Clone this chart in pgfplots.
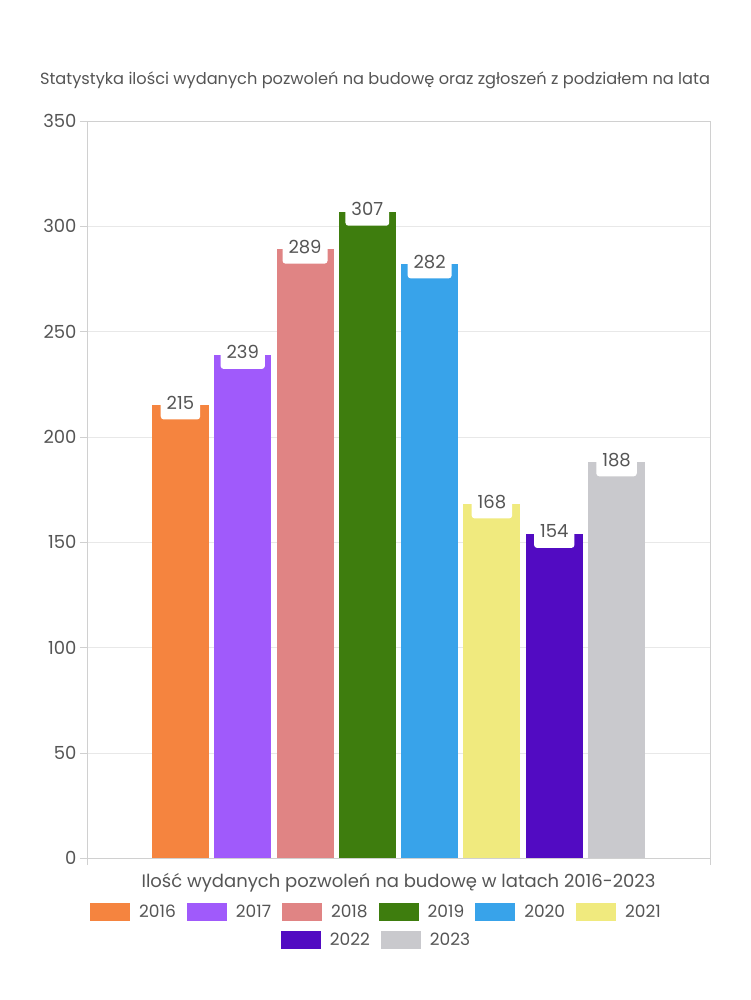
\documentclass[border=0pt]{standalone}
\usepackage{pgfplots}
\pgfplotsset{compat=1.18}
\usepackage{fontspec}
\setmainfont{Poppins}
\definecolor{c16}{HTML}{F5843F}
\definecolor{c17}{HTML}{A05AFB}
\definecolor{c18}{HTML}{E08484}
\definecolor{c19}{HTML}{3E7D0E}
\definecolor{c20}{HTML}{38A3EA}
\definecolor{c21}{HTML}{F0EA7E}
\definecolor{c22}{HTML}{520BC2}
\definecolor{c23}{HTML}{C9C9CD}
\definecolor{txt}{HTML}{555555}
\definecolor{gridc}{HTML}{E8E8E8}
\definecolor{axc}{HTML}{D0D0D0}
\pgfplotsset{
  swatch/.style={legend image code/.code={\fill[##1] (0pt,-9pt) rectangle (40pt,9pt);}},
  lgd/.style={
    legend style={draw=none, fill=none, inner sep=0pt, text=txt,
      font=\fontsize{17}{17}\selectfont, at={(0.5,0)}, anchor=north,
      /tikz/every odd column/.style={column sep=9pt},
      /tikz/every even column/.style={column sep=11pt},
      nodes={inner sep=0pt}},
    legend columns=6, swatch},
}
\begin{document}
\begin{tikzpicture}
\path[use as bounding box, fill=white] (-87pt,-142pt) rectangle (663pt,858pt);
\node[text=txt, font=\fontsize{16.2}{16.2}\selectfont] at (288pt,778pt) {Statystyka ilości wydanych pozwoleń na budowę oraz zgłoszeń z podziałem na lata};
\begin{axis}[
  scale only axis,
  width=623pt, height=737pt,
  xmin=-1.5, xmax=8.5, ymin=0, ymax=350,
  ytick={0,50,...,350},
  xtick={-1.5,8.5}, xticklabels={},
  xtick pos=bottom, ytick pos=left,
  tick align=outside, major tick length=7pt,
  tick style={axc},
  ymajorgrids, grid style={gridc},
  axis line style={axc},
  /pgf/number format/assume math mode=true,
  yticklabel style={text=txt, font=\fontsize{18}{18}\selectfont},
  xlabel={Ilość wydanych pozwoleń na budowę w latach 2016-2023},
  xlabel style={text=txt, font=\fontsize{18}{18}\selectfont, at={(axis description cs:0.5,0)}, anchor=north, yshift=-12pt},
  ybar, bar width=57pt, bar shift=0pt,
  nodes near coords,
  every node near coord/.append style={anchor=north, yshift=10pt, fill=white, rounded corners=3pt,
    text=txt, font=\fontsize{18}{18}\selectfont, inner xsep=6pt, inner ysep=2pt,
    text height=12pt, text depth=8pt},
  lgd, legend style={yshift=-45pt, xshift=-23pt},
  legend entries={2016,2017,2018,2019,2020,2021},
]
\addplot[fill=c16, draw=none] coordinates {(0,215)};
\addplot[fill=c17, draw=none] coordinates {(1,239)};
\addplot[fill=c18, draw=none] coordinates {(2,289)};
\addplot[fill=c19, draw=none] coordinates {(3,307)};
\addplot[fill=c20, draw=none] coordinates {(4,282)};
\addplot[fill=c21, draw=none] coordinates {(5,168)};
\addplot[fill=c22, draw=none] coordinates {(6,154)};
\addplot[fill=c23, draw=none] coordinates {(7,188)};
\end{axis}
\begin{axis}[
  scale only axis,
  width=623pt, height=737pt,
  xmin=0, xmax=1, ymin=0, ymax=1, hide axis,
  lgd, legend style={yshift=-73pt, xshift=-23pt},
]
\addlegendimage{fill=c22, draw=none}
\addlegendentry{2022}
\addlegendimage{fill=c23, draw=none}
\addlegendentry{2023}
\end{axis}
\end{tikzpicture}
\end{document}
